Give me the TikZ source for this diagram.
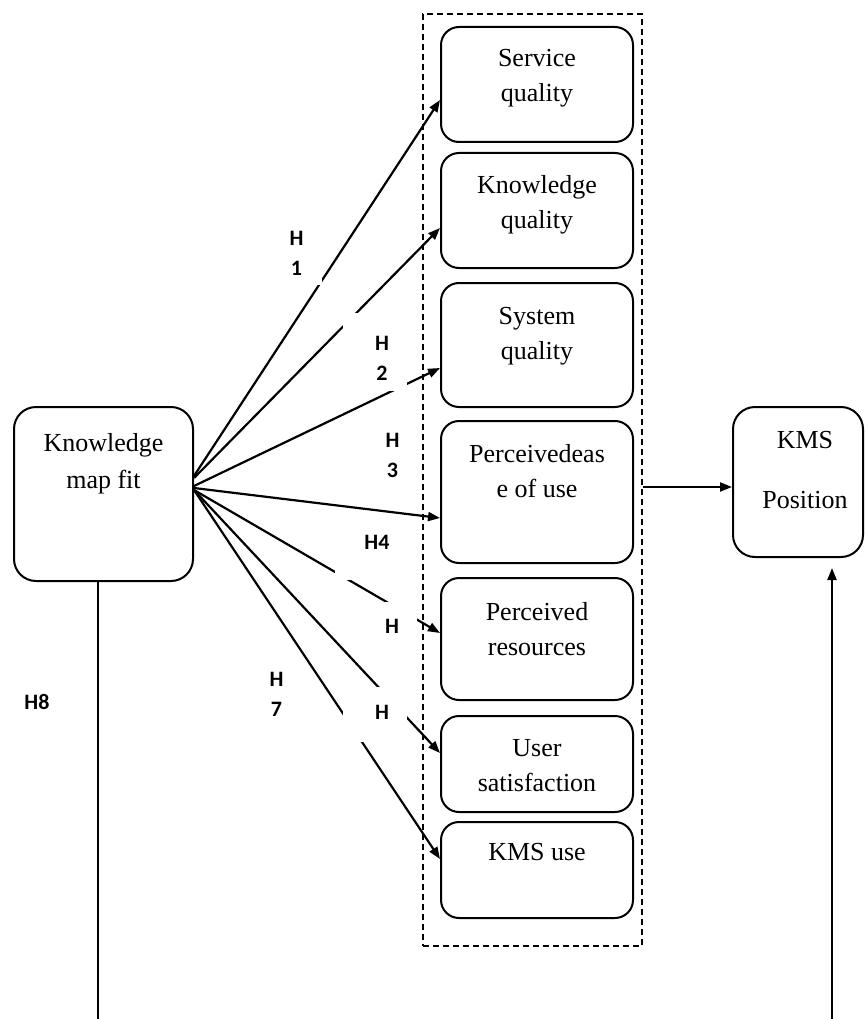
\documentclass[tikz,border=0pt]{standalone}
\usepackage{fontspec}
\setmainfont{Liberation Serif}
\newfontfamily\hypfont{Carlito}
\usetikzlibrary{arrows.meta}
% box body: width, height, first-baseline depth, lines
\newcommand\boxbody[4]{\parbox[c][#2][t]{#1}{\centering\rule{0pt}{#3}#4}}
\tikzset{
  cbox/.style={draw, line width=2pt, rounded corners=18pt, inner sep=0pt,
    font=\fontsize{26}{35}\selectfont},
  bigbox/.style={cbox, rounded corners=22pt},
  group/.style={draw, dashed, dash pattern=on 6pt off 4pt, line width=1.5pt,
    inner sep=0pt},
  arr/.style={line width=2.2pt, -{Triangle[length=12pt,width=9pt]}},
  plain/.style={line width=2.2pt},
  hyp/.style={font=\hypfont\bfseries\fontsize{22}{30}\selectfont, align=center,
    inner sep=0pt},
  gap/.style={fill=white, inner sep=0pt, anchor=north west}
}
\begin{document}
\begin{tikzpicture}[x=1pt,y=-1pt]
\useasboundingbox (0,0) rectangle (864,1019);

% dashed group of mediating constructs
\node[group, minimum width=219pt, minimum height=932pt] (grp) at (532.5,480) {};

% constructs inside the group
\node[cbox] (sq)   at (537,84.5) {\boxbody{192pt}{115pt}{40pt}{Service\\quality}};
\node[cbox] (kq)   at (537,210.5) {\boxbody{192pt}{115pt}{40pt}{Knowledge\\quality}};
\node[cbox] (sys)  at (537,345) {\boxbody{192pt}{124pt}{41pt}{System\\quality}};
\node[cbox] (peou) at (537,492) {\boxbody{192pt}{142pt}{41pt}{Perceivedeas\\e of use}};
\node[cbox] (pr)   at (537,639) {\boxbody{192pt}{122pt}{42pt}{Perceived\\resources}};
\node[cbox] (us)   at (537,764) {\boxbody{192pt}{96pt}{40pt}{User\\satisfaction}};
\node[cbox] (ku)   at (537,870) {\boxbody{192pt}{96pt}{38pt}{KMS use}};

% source and outcome
\node[bigbox] (kmf)  at (103.5,494) {\boxbody{179pt}{174pt}{44pt}{Knowledge\\[2pt]map fit}};
\node[bigbox] (kpos) at (798,482) {\boxbody{130pt}{150pt}{41pt}{\hspace*{14pt}KMS\\[25pt]\hspace*{14pt}Position}};

% hypothesis paths
\draw[arr] ([yshift=18pt]kmf.east) -- ([yshift=-15.5pt]sq.west);
\draw[arr] ([yshift=16pt]kmf.east) -- ([yshift=-17.5pt]kq.west);
\draw[arr] ([yshift=8pt]kmf.east)  -- ([yshift=-23pt]sys.west);
\draw[arr] ([yshift=6pt]kmf.east)  -- ([yshift=-26pt]peou.west);
\draw[arr] ([yshift=4pt]kmf.east)  -- ([yshift=6pt]pr.west);
\draw[arr] ([yshift=4pt]kmf.east)  -- ([yshift=11pt]us.west);
\draw[arr] ([yshift=4pt]kmf.east)  -- ([yshift=11pt]ku.west);

% group to outcome
\draw[arr] ([yshift=-7pt]grp.east) -- ([yshift=-5pt]kpos.west);

% direct path H8
\coordinate (bl) at (98,1022);
\coordinate (br) at (832,1022);
\coordinate (kb) at ([yshift=-10pt]kpos.south);
\draw[plain] (kmf.south -| bl) -- (bl);
\draw[arr] (br) -- (kb -| br);

% white label backgrounds
\node[gap, minimum width=42pt, minimum height=63pt] (g1) at (280,222) {};
\node[gap, minimum width=64pt, minimum height=78pt] (g2) at (343,313) {};
\node[gap, minimum width=80pt, minimum height=60pt] (g4) at (335,520) {};
\node[gap, minimum width=47pt, minimum height=48pt] (g5) at (370,602) {};
\node[gap, minimum width=64pt, minimum height=55pt] (g6) at (343,687) {};

% hypothesis labels
\node[hyp] (h1) at (296.5,253) {H\\1};
\node[hyp] (h2) at (382,358) {H\\2};
\node[hyp] (h3) at (392.5,455.5) {H\\3};
\node[hyp] (h4) at (377,542) {H4};
\node[hyp] (h5) at (392,626) {H};
\node[hyp] (h6) at (382,712) {H};
\node[hyp] (h7) at (276.5,694.5) {H\\7};
\node[hyp] (h8) at (37,702) {H8};
\end{tikzpicture}
\end{document}
